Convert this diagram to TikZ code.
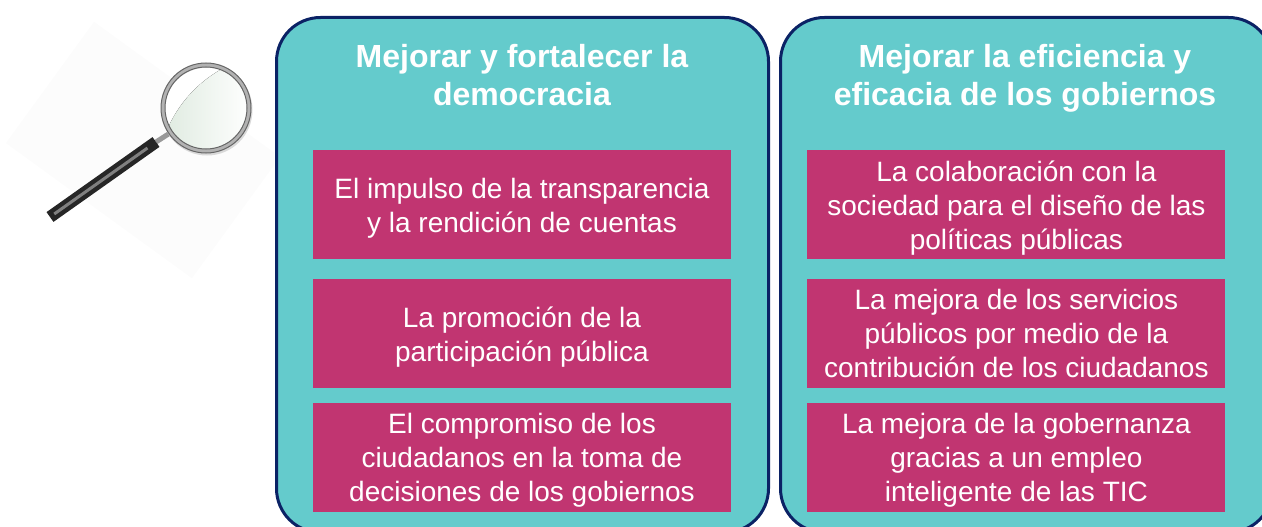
\documentclass[tikz,border=0pt]{standalone}
\usepackage{fontspec}
\setmainfont{Liberation Sans}
\usetikzlibrary{positioning,calc}
\definecolor{panelfill}{HTML}{64CBCC}
\definecolor{paneldraw}{HTML}{0B2265}
\definecolor{boxfill}{HTML}{C13571}
\definecolor{glarefill}{HTML}{E1ECE2}
\newcommand{\firstln}{\rule{0pt}{27pt}}
\begin{document}
\begin{tikzpicture}[x=1pt,y=-1pt,node distance=20pt and 76pt,
                    panel/.style={draw=paneldraw,line width=3pt,fill=panelfill,rounded corners=44pt,
                                  minimum width=492pt,minimum height=515pt,anchor=north west},
                    title/.style={text=white,align=center,font=\fontsize{32}{38}\selectfont\bfseries},
                    box/.style={fill=boxfill,text=white,align=center,minimum width=418pt,minimum height=109pt,
                                inner sep=0pt,font=\fontsize{28}{34}\selectfont}]

  \clip (0,0) rectangle (1262,527);
  \useasboundingbox (0,0) rectangle (1262,527);

  % panels
  \node[panel] (left) at (275,16) {};
  \node[panel] (right) at (779,16) {};
  \node[title] (t1) at (522,75) {Mejorar y fortalecer la\\democracia};
  \node[title] (t2) at (1025,78) {Mejorar la eficiencia y\\eficacia de los gobiernos};

  % boxes
  \node[box] (a1) at (522,204.5) {\firstln El impulso de la transparencia\\y la rendición de cuentas};
  \node[box] (a2) [below=20pt of a1] {\firstln La promoción de la\\participación pública};
  \node[box] (a3) [below=14pt of a2] {\firstln El compromiso de los\\ciudadanos en la toma de\\decisiones de los gobiernos};
  \node[box] (b1) [right=76pt of a1] {\firstln La colaboración con la\\sociedad para el diseño de las\\políticas públicas};
  \node[box] (b2) [below=20pt of b1] {La mejora de los servicios\\públicos por medio de la\\contribución de los ciudadanos};
  \node[box] (b3) [below=14pt of b2] {\firstln La mejora de la gobernanza\\gracias a un empleo\\inteligente de las TIC};

  % magnifier
  \begin{scope}
    \clip (0,0) rectangle (274,527);
    \fill[black!1,rotate around={-36:(143,150)}] (143,150) +(-115,-75) rectangle +(115,75);
  \end{scope}
  \coordinate (lens) at (206,108);
  \coordinate (h1) at (50,217);
  \coordinate (h2) at (156,142);
  \coordinate (h3) at (170,133);
  \draw[line width=5pt,black!40] (h2) -- (h3);
  \draw[line width=12pt,black!85] (h1) -- (h2);
  \draw[line width=3pt,black!50] ($(h1)!0.04!(h2)$) -- ($(h1)!0.92!(h2)$);
  \fill[white] (lens) circle (43);
  \begin{scope}
    \clip (lens) circle (43);
    \fill[left color=glarefill,right color=white]
      (168,128) .. controls (178,105) and (196,84) .. (220,70) -- (252,70) -- (252,170) -- (168,170) -- cycle;
  \end{scope}
  \draw[black!15,line width=3pt] (207,110) circle (44);
  \draw[black!30,line width=4pt] (lens) circle (43);
  \draw[black!60,line width=1pt] (lens) circle (41);
  \draw[black!60,line width=1pt] (lens) circle (45);
\end{tikzpicture}
\end{document}
